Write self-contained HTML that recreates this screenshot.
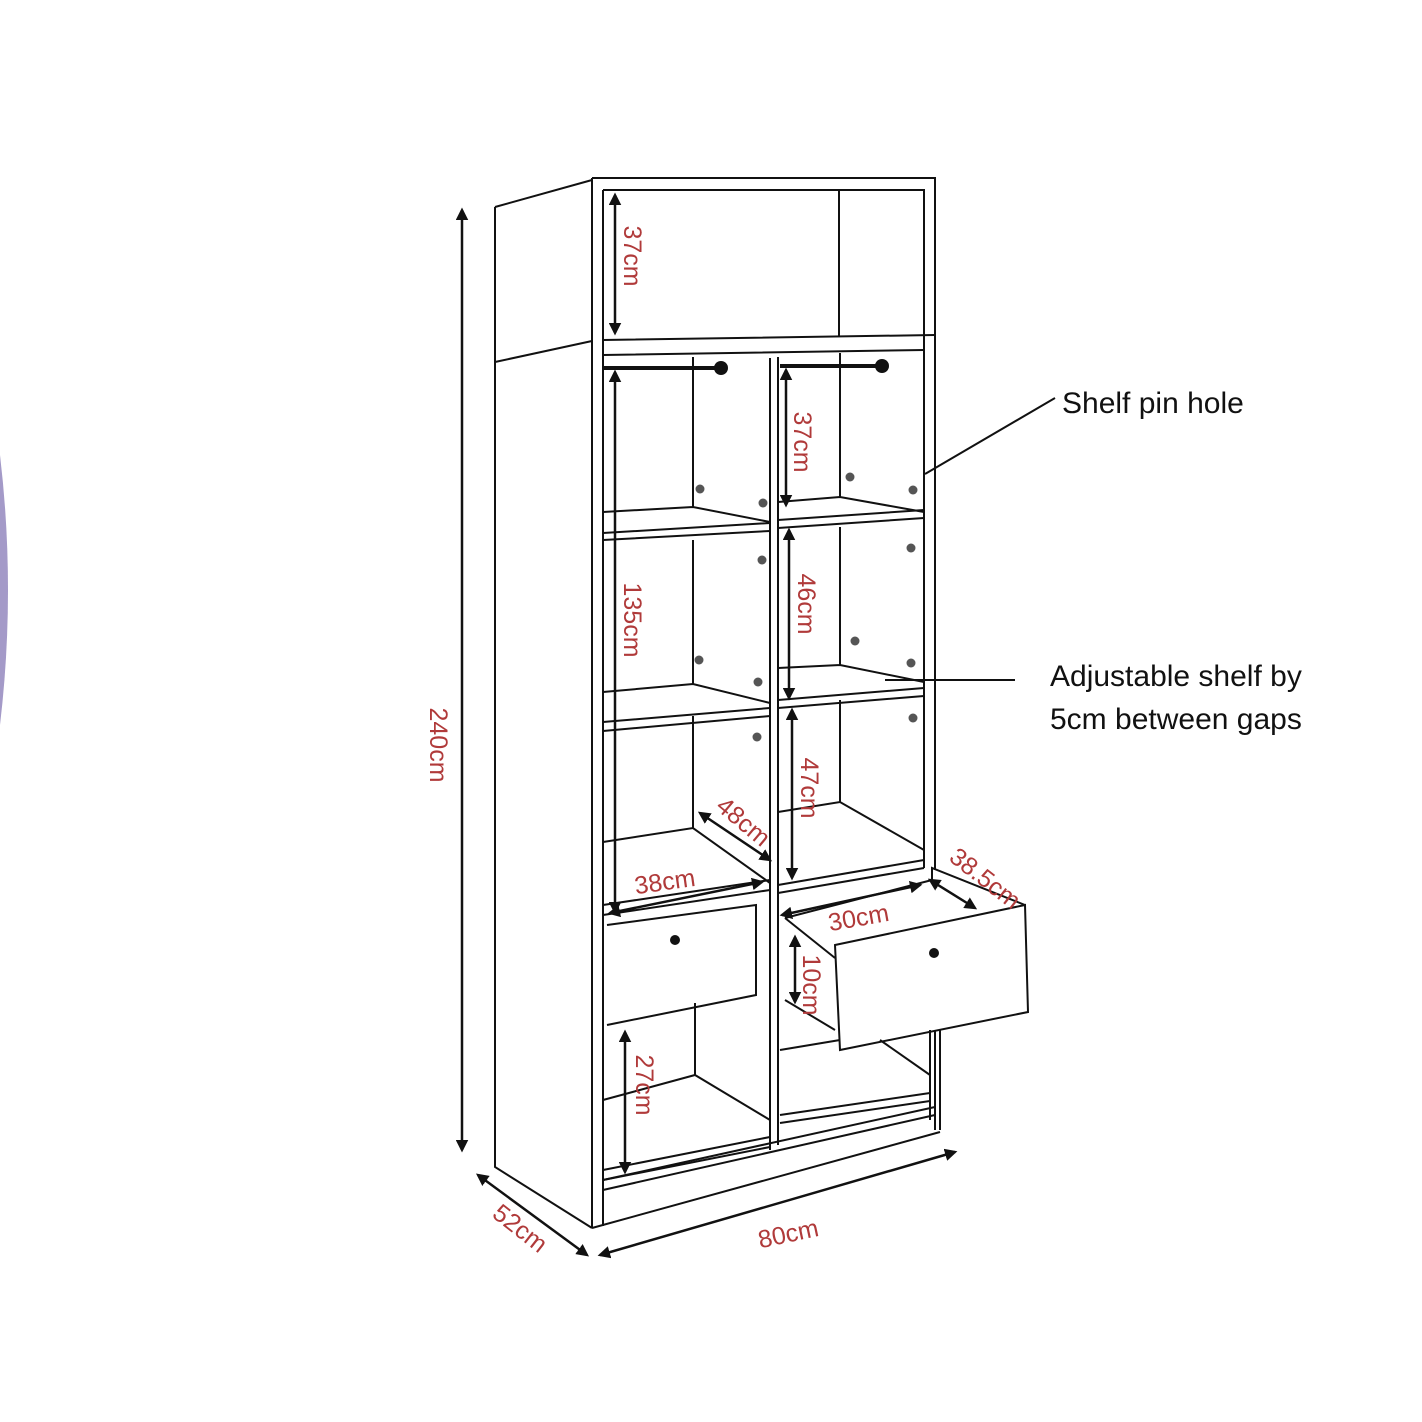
<!DOCTYPE html>
<html><head><meta charset="utf-8"><style>
html,body{margin:0;padding:0;background:#fff;}
svg{display:block;}
.l{stroke:#111;stroke-width:2;fill:none;}
.r{fill:#b03a3a;font-family:"Liberation Sans",sans-serif;font-size:25px;}
.b{fill:#111;font-family:"Liberation Sans",sans-serif;font-size:30px;}
</style></head><body>
<svg width="1422" height="1422" viewBox="0 0 1422 1422" xmlns="http://www.w3.org/2000/svg">
<defs>
<marker id="a" viewBox="0 0 10 10" refX="8" refY="5" markerWidth="5" markerHeight="5" orient="auto-start-reverse"><path d="M0,0L10,5L0,10z" fill="#111"/></marker>
</defs>
<path d="M0,455 Q16,590 0,725 Z" fill="#a49ac8"/>
<g class="l">
<path d="M495,207 L592,180 M495,362 L592,341 M495,207 L495,1167 L592,1228"/>
<path d="M592,178 L935,178 L935,870 M935,1030 L935,1130 M592,178 L592,1228 M603,190 L603,1226 M603,190 L924,190 L924,868"/>
<path d="M603,340 L935,335 M603,355 L924,350"/>
<path d="M839,190 L839,336"/>
<path d="M770,358 L770,1150 M778,357 L778,1145"/>
<path d="M592,1228 L940,1132 M603,1190 L935,1115 M603,1180 L935,1107"/>
<path d="M693,357 L693,507 M603,512 L693,507 L770,522 M603,533 L770,523 M603,540 L770,531"/>
<path d="M693,540 L693,684 M603,692 L693,684 L770,703 M603,722 L770,708 M603,731 L770,716"/>
<path d="M693,716 L693,828 M603,842 L693,828 L770,883 M603,905 L770,880 M603,915 L770,890"/>
<path d="M607,925 L756,905 L756,995 L607,1025"/>
<path d="M695,1003 L695,1075 M603,1100 L695,1075 L770,1120 M603,1170 L770,1137 M603,1180 L770,1147"/>
<path d="M840,353 L840,497 M778,502 L840,497 L924,512 M778,520 L924,510 M778,528 L924,518"/>
<path d="M840,527 L840,665 M778,668 L840,665 L924,682 M778,700 L924,688 M778,708 L924,696"/>
<path d="M840,700 L840,802 M778,812 L840,802 L924,850 M778,885 L924,860 M778,893 L924,868"/>
<path d="M835,945 L1025,905 L1028,1012 L840,1050 Z"/>
<path d="M1025,905 L932,868 L932,880 M932,880 L785,918 M785,918 L835,958 M785,1000 L835,1030"/>
<path d="M930,1030 L930,1120 M940,1030 L940,1130"/>
<path d="M780,1050 L840,1040 M880,1040 L930,1075 M780,1115 L930,1093 M780,1123 L930,1101"/>
<path d="M603,368 L721,368 M780,366 L882,366" style="stroke-width:4"/>
<g marker-start="url(#a)" marker-end="url(#a)" style="stroke-width:2.5">
<path d="M615,195 L615,333"/>
<path d="M615,372 L615,912"/>
<path d="M786,370 L786,505"/>
<path d="M789,530 L789,698"/>
<path d="M792,710 L792,878"/>
<path d="M795,937 L795,1002"/>
<path d="M625,1032 L625,1172"/>
<path d="M700,813 L770,860"/>
<path d="M610,913 L762,882"/>
<path d="M782,915 L920,885"/>
<path d="M930,880 L975,908"/>
<path d="M462,210 L462,1150"/>
<path d="M478,1175 L587,1255"/>
<path d="M600,1255 L955,1152"/>
</g>
<path d="M925,474 L1055,398 M885,680 L1015,680"/>
</g>
<g fill="#111">
<circle cx="721" cy="368" r="7"/><circle cx="882" cy="366" r="7"/>
<circle cx="675" cy="940" r="5"/><circle cx="934" cy="953" r="5"/>
</g>
<g fill="#555">
<circle cx="700" cy="489" r="4.5"/><circle cx="763" cy="503" r="4.5"/><circle cx="762" cy="560" r="4.5"/>
<circle cx="699" cy="660" r="4.5"/><circle cx="758" cy="682" r="4.5"/><circle cx="757" cy="737" r="4.5"/>
<circle cx="850" cy="477" r="4.5"/><circle cx="913" cy="490" r="4.5"/><circle cx="911" cy="548" r="4.5"/>
<circle cx="855" cy="641" r="4.5"/><circle cx="911" cy="663" r="4.5"/><circle cx="913" cy="718" r="4.5"/>
</g>
<g class="r" text-anchor="middle">
<text transform="translate(624,256) rotate(90)">37cm</text>
<text transform="translate(794,442) rotate(90)">37cm</text>
<text transform="translate(624,620) rotate(90)">135cm</text>
<text transform="translate(798,604) rotate(90)">46cm</text>
<text transform="translate(801,788) rotate(90)">47cm</text>
<text transform="translate(636,1085) rotate(90)">27cm</text>
<text transform="translate(803,985) rotate(90)">10cm</text>
<text transform="translate(430,745) rotate(90)">240cm</text>
<text transform="translate(738,828) rotate(40)">48cm</text>
<text transform="translate(666,890) rotate(-8)">38cm</text>
<text transform="translate(860,926) rotate(-10)">30cm</text>
<text transform="translate(980,885) rotate(38)">38.5cm</text>
<text transform="translate(515,1235) rotate(38)">52cm</text>
<text transform="translate(790,1242) rotate(-12)">80cm</text>
</g>
<text class="b" x="1062" y="413">Shelf pin hole</text>
<text class="b" x="1050" y="686">Adjustable shelf by</text>
<text class="b" x="1050" y="729">5cm between gaps</text>
</svg>
</body></html>
